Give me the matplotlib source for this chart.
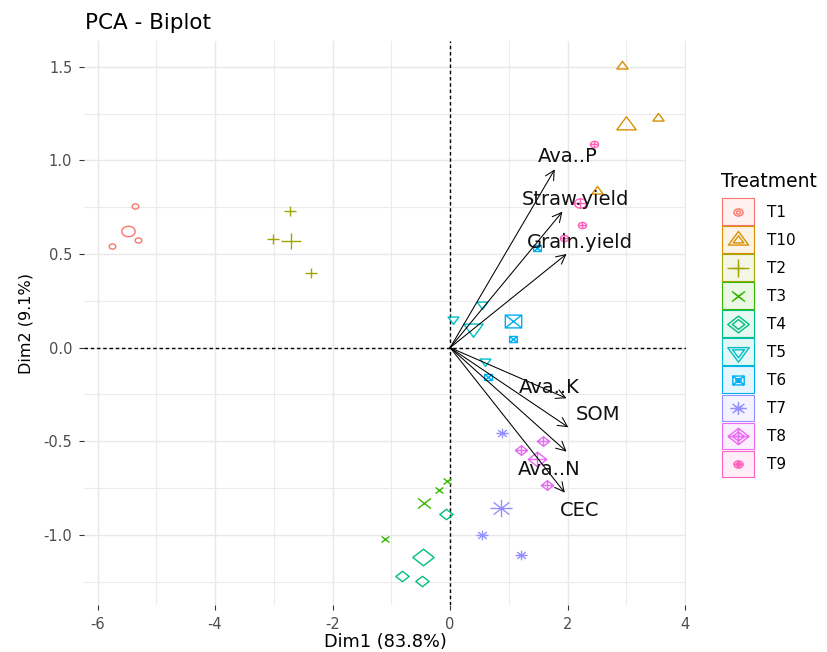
import numpy as np
import matplotlib
matplotlib.use('Agg')
import matplotlib.pyplot as plt
from matplotlib.path import Path
from matplotlib.patches import Rectangle
from matplotlib.lines import Line2D
from matplotlib.colors import to_rgba

plt.rcParams['font.family'] = ['DejaVu Sans']
plt.rcParams['axes.unicode_minus'] = False

# ---------------- data ----------------
treatments = ['T1', 'T10', 'T2', 'T3', 'T4', 'T5', 'T6', 'T7', 'T8', 'T9']
colors = ['#F8766D', '#D89000', '#A3A500', '#39B600', '#00BF7D',
          '#00BFC4', '#00B0F6', '#9590FF', '#E76BF3', '#FF62BC']

ind_group = ['T1', 'T1', 'T1', 'T10', 'T10', 'T10', 'T2', 'T2', 'T2',
             'T3', 'T3', 'T3', 'T4', 'T4', 'T4', 'T5', 'T5', 'T5',
             'T6', 'T6', 'T6', 'T7', 'T7', 'T7', 'T8', 'T8', 'T8',
             'T9', 'T9', 'T9']
ind_x = [-5.36, -5.31, -5.76, 2.92, 3.54, 2.50, -2.73, -3.01, -2.36,
         -0.06, -0.19, -1.10, -0.07, -0.82, -0.48, 0.05, 0.55, 0.59,
         1.47, 1.07, 0.65, 0.88, 0.54, 1.20, 1.58, 1.20, 1.65,
         2.44, 2.25, 1.94]
ind_y = [0.757, 0.575, 0.541, 1.506, 1.226, 0.835, 0.730, 0.580, 0.399,
         -0.710, -0.760, -1.021, -0.889, -1.219, -1.244, 0.152, 0.233, -0.071,
         0.531, 0.048, -0.155, -0.454, -1.002, -1.108, -0.497, -0.546, -0.733,
         1.088, 0.653, 0.584]

var_names = ['Ava..P', 'Straw.yield', 'Grain.yield', 'Ava..K', 'SOM', 'Ava..N', 'CEC']
var_x = [1.78, 1.91, 1.98, 1.98, 2.01, 1.98, 1.95]
var_y = [0.952, 0.726, 0.500, -0.270, -0.425, -0.555, -0.774]
var_label_x = [2.005, 2.124, 2.21, 1.687, 2.52, 1.68, 2.205]
var_label_y = [0.993, 0.762, 0.531, -0.240, -0.386, -0.680, -0.899]

x_ticks = [-6, -4, -2, 0, 2, 4]
y_ticks = [-1.0, -0.5, 0.0, 0.5, 1.0, 1.5]
x_label = 'Dim1 (83.8%)'
y_label = 'Dim2 (9.1%)'
title = 'PCA - Biplot'
legend_title = 'Treatment'

# ---------------- marker shapes (R pch 1..10, horizontally stretched) ----------------
S = 0.78


def poly_path(polys):
    verts, codes = [], []
    for pts, closed in polys:
        verts.append(pts[0]); codes.append(Path.MOVETO)
        for p in pts[1:]:
            verts.append(p); codes.append(Path.LINETO)
        if closed:
            verts.append(pts[0]); codes.append(Path.CLOSEPOLY)
    v = np.array(verts, float)
    v[:, 1] *= S
    return Path(v, codes)


def circle_path():
    uc = Path.unit_circle()
    return Path(uc.vertices * np.array([1.0, S]), uc.codes)


h = 1 / 0.866
tri = [(0, 1 * h), (-1, -0.5 * h), (1, -0.5 * h)]
plus = [([(-1, 0), (1, 0)], False), ([(0, -1), (0, 1)], False)]
diam = [(1, 0), (0, 1), (-1, 0), (0, -1)]
d = 0.7071
shape_paths = {
    'T1': circle_path(),
    'T10': poly_path([(tri, True)]),
    'T2': poly_path(plus),
    'T3': poly_path([([(-1, -1), (1, 1)], False), ([(-1, 1), (1, -1)], False)]),
    'T4': poly_path([(diam, True)]),
    'T5': poly_path([([(x, -y) for x, y in tri], True)]),
    'T6': poly_path([([(-1, -1), (1, -1), (1, 1), (-1, 1)], True),
                     ([(-1, -1), (1, 1)], False), ([(-1, 1), (1, -1)], False)]),
    'T7': poly_path(plus + [([(-d, -d), (d, d)], False), ([(-d, d), (d, -d)], False)]),
    'T8': poly_path([(diam, True)] + plus),
    'T9': Path.make_compound_path(circle_path(), poly_path(plus)),
}
# marker widths in points: (individual, group mean, legend outer, legend inner)
msize = {
    'T1': (4.8, 9.6, 6.6, 3.0), 'T10': (8.1, 14.0, 14.5, 7.5), 'T2': (8.8, 14.8, 16.5, 9.0),
    'T3': (5.6, 9.3, 9.4, 5.5), 'T4': (9.6, 15.3, 15.5, 9.0), 'T5': (7.8, 14.0, 15.5, 8.5),
    'T6': (5.6, 11.8, 8.2, 3.5), 'T7': (8.8, 16.0, 12.0, 7.0), 'T8': (8.8, 13.3, 15.0, 8.5),
    'T9': (5.8, 8.6, 6.6, 3.5),
}
MEW = 1.0

# ---------------- figure ----------------
W, H = 827, 652
fig = plt.figure(figsize=(W / 100, H / 100), dpi=100)
ax = fig.add_axes([84 / W, 47 / H, 602 / W, 564.3 / H])
ax.set_xlim(-6.23, 4.013)
ax.set_ylim(-1.374, 1.639)
for s in ax.spines.values():
    s.set_visible(False)

ax.set_xticks(x_ticks)
ax.set_xticklabels([f'{v:g}' for v in x_ticks])
ax.set_yticks(y_ticks)
ax.set_yticklabels([f'{v:.1f}' for v in y_ticks])
ax.set_xticks([-5, -3, -1, 1, 3], minor=True)
ax.set_yticks([-1.25, -0.75, -0.25, 0.25, 0.75, 1.25], minor=True)
ax.tick_params(which='major', length=3.5, width=0.8, color='#333333',
               labelcolor='#4D4D4D', labelsize=10.5, pad=5)
ax.tick_params(which='minor', length=0)
ax.grid(which='major', color='#E8E8E8', lw=1.0)
ax.grid(which='minor', color='#EBEBEB', lw=0.8)
ax.set_axisbelow(True)

ax.axhline(0, color='black', lw=1.0, ls=(0, (2.5, 2)), zorder=1.5)
ax.axvline(0, color='black', lw=1.0, ls=(0, (2.5, 2)), zorder=1.5)

gx = np.array(ind_x)
gy = np.array(ind_y)
gg = np.array(ind_group)
for t, c in zip(treatments, colors):
    m = gg == t
    ax.plot(gx[m], gy[m], ls='none', marker=shape_paths[t], ms=msize[t][0],
            mec=c, mfc='none', mew=MEW, zorder=3)
    ax.plot([gx[m].mean()], [gy[m].mean()], ls='none', marker=shape_paths[t],
            ms=msize[t][1], mec=c, mfc='none', mew=MEW, zorder=3)

for name, vx, vy, lx, ly in zip(var_names, var_x, var_y, var_label_x, var_label_y):
    ax.annotate('', xy=(vx, vy), xytext=(0, 0),
                arrowprops=dict(arrowstyle='->,head_length=0.55,head_width=0.28',
                                mutation_scale=12, lw=0.75, color='black',
                                shrinkA=0, shrinkB=0), zorder=4)
    ax.text(lx, ly, name, ha='center', va='baseline', fontsize=14, color='#111111', zorder=5)


def fx(px):
    return px / W


def fy(py):
    return 1 - py / H


fig.text(fx(85), fy(29), title, fontsize=15.5, ha='left', va='baseline')
fig.text(fx(385), fy(647), x_label, fontsize=12.8, ha='center', va='baseline')
fig.text(fx(34), fy(323), y_label, fontsize=11.5, ha='right', va='center', rotation=90)

# legend
fig.text(fx(720.7), fy(187), legend_title, fontsize=13.5, ha='left', va='baseline')
for i, (t, c) in enumerate(zip(treatments, colors)):
    cy = 211.7 + i * 28.03
    fig.add_artist(Rectangle((fx(721.7), fy(cy + 13.3)), 32.6 / W, 26.7 / H,
                             transform=fig.transFigure, facecolor=to_rgba(c, 0.1),
                             edgecolor=c, lw=0.8))
    for ms in (msize[t][2], msize[t][3]):
        fig.add_artist(Line2D([fx(738)], [fy(cy)], transform=fig.transFigure,
                              marker=shape_paths[t], ms=ms, mec=c, mfc='none',
                              mew=MEW, ls='none'))
    fig.text(fx(766.7), fy(cy + 5.4), t, fontsize=11, ha='left', va='baseline')

fig.savefig('out.png', dpi=100, facecolor='white')
